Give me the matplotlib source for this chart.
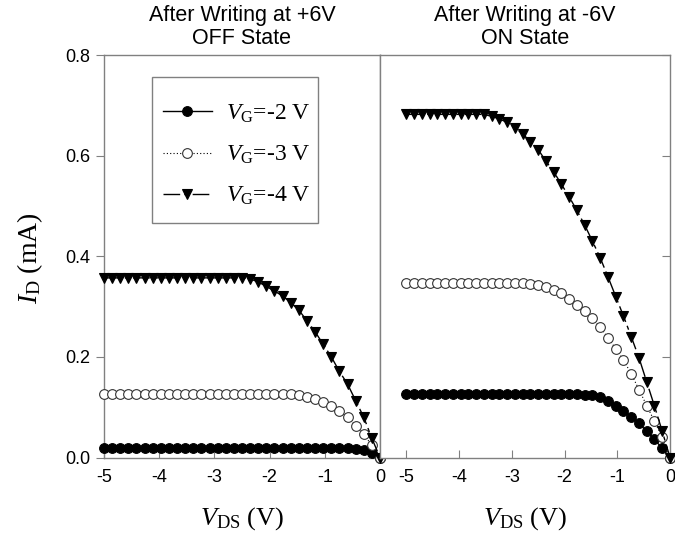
import matplotlib
matplotlib.use('Agg')
import matplotlib.pyplot as plt
from matplotlib.patches import Rectangle

plt.rcParams['mathtext.fontset'] = 'custom'
plt.rcParams['mathtext.rm'] = 'Liberation Serif'
plt.rcParams['mathtext.it'] = 'Liberation Serif:italic'

VDS = [-5.000, -4.853, -4.706, -4.559, -4.412, -4.265, -4.118, -3.971, -3.824, -3.676,
       -3.529, -3.382, -3.235, -3.088, -2.941, -2.794, -2.647, -2.500, -2.353, -2.206,
       -2.059, -1.912, -1.765, -1.618, -1.471, -1.324, -1.176, -1.029, -0.882, -0.735,
       -0.588, -0.441, -0.294, -0.147, 0.000]

OFF_VG2 = [0.018] * 31 + [0.017, 0.015, 0.009, 0.0]
OFF_VG3 = [0.127] * 23 + [0.126, 0.125, 0.121, 0.117, 0.110, 0.102, 0.092, 0.080,
                          0.063, 0.046, 0.024, 0.0]
OFF_VG4 = [0.357] * 18 + [0.355, 0.349, 0.340, 0.331, 0.321, 0.308, 0.293, 0.272, 0.250,
                          0.225, 0.200, 0.171, 0.146, 0.113, 0.080, 0.038, 0.0]

ON_VG2 = [0.126] * 23 + [0.125, 0.124, 0.120, 0.113, 0.103, 0.093, 0.081, 0.068,
                         0.052, 0.036, 0.018, 0.0]
ON_VG3 = [0.346] * 16 + [0.345, 0.343, 0.339, 0.333, 0.326, 0.316, 0.304, 0.291, 0.277,
                         0.259, 0.238, 0.216, 0.194, 0.166, 0.135, 0.103, 0.072, 0.040, 0.0]
ON_VG4 = [0.682] * 11 + [0.678, 0.673, 0.666, 0.655, 0.643, 0.628, 0.612, 0.589, 0.568,
                         0.543, 0.518, 0.491, 0.462, 0.430, 0.397, 0.359, 0.320, 0.281,
                         0.240, 0.198, 0.150, 0.102, 0.052, 0.0]

labels = [r'$\mathit{V}_{\mathrm{G}}$=-2 V', r'$\mathit{V}_{\mathrm{G}}$=-3 V', r'$\mathit{V}_{\mathrm{G}}$=-4 V']
titles = ['After Writing at +6V\nOFF State', 'After Writing at -6V\nON State']
xticks = [-5, -4, -3, -2, -1, 0]
yticks = [0.0, 0.2, 0.4, 0.6, 0.8]

W, H = 675, 541
fig = plt.figure(figsize=(W / 100, H / 100), dpi=100)
ax1 = fig.add_axes([104 / W, 1 - 457.5 / H, (380 - 104) / W, (457.5 - 55) / H])
ax2 = fig.add_axes([380 / W, 1 - 457.5 / H, (670 - 380) / W, (457.5 - 55) / H])

gray = '#808080'
styles = [
    dict(marker='o', ms=7, mfc='black', mec='black', color='black', ls='-', lw=1.0, mew=0.8),
    dict(marker='o', ms=7, mfc='white', mec='#333333', color='black', ls=(0, (1, 2)), lw=0.8, mew=0.8),
    dict(marker='v', ms=7.5, mfc='black', mec='black', color='black', ls=(0, (12, 3, 3, 3)), lw=1.0, mew=0.8),
]

for ax, series in [(ax1, [OFF_VG2, OFF_VG3, OFF_VG4]), (ax2, [ON_VG2, ON_VG3, ON_VG4])]:
    for ys, st, lab in zip(series, styles, labels):
        ax.plot(VDS, ys, label=lab, clip_on=False, zorder=3, **st)
    ax.set_ylim(0, 0.8)
    ax.set_xticks(xticks)
    ax.set_xticklabels([str(t) for t in xticks], fontsize=13, family='Liberation Sans')
    for s in ax.spines.values():
        s.set_color(gray)
        s.set_linewidth(1.0)
    ax.tick_params(axis='x', direction='in', length=6, color=gray, pad=8)

ax1.set_xlim(-5, 0)
ax2.set_xlim(-5.5, 0)

ax1.set_yticks(yticks)
ax1.set_yticklabels(['%.1f' % t for t in yticks], fontsize=13, family='Liberation Sans')
ax1.tick_params(axis='y', direction='out', length=6, color=gray, pad=4)

ax2.set_yticks(yticks)
ax2.tick_params(axis='y', direction='in', length=6, color=gray, left=False, right=True,
                labelleft=False, labelright=False)

for ax, t in zip([ax1, ax2], titles):
    ax.set_title(t, fontsize=15.5, family='Liberation Sans', pad=8, linespacing=1.12)
    ax.set_xlabel(r'$\mathit{V}_{\mathrm{DS}}$ (V)', fontsize=19, family='Liberation Serif', labelpad=14)

fig.text(30 / W, 1 - 258 / H, r'$\mathit{I}_{\mathrm{D}}$ (mA)', rotation=90, fontsize=20,
         family='Liberation Serif', ha='center', va='center')

# legend box
bx0, by0, bx1, by1 = 152, 77, 318, 223
box = Rectangle((bx0 / W, 1 - by1 / H), (bx1 - bx0) / W, (by1 - by0) / H,
                transform=fig.transFigure, fill=True, facecolor='white',
                edgecolor=gray, lw=1.0, zorder=4, clip_on=False)
ax1.add_patch(box)
shift = 5
leg = ax1.legend(loc='center left',
                 bbox_to_anchor=(bx0 / W, 1 - (by1 + shift) / H, (bx1 - bx0) / W, (by1 - by0) / H),
                 bbox_transform=fig.transFigure, borderaxespad=0, frameon=False,
                 prop={'family': 'Liberation Serif', 'size': 17}, handlelength=2.1,
                 labelspacing=0.8, borderpad=0.45, handletextpad=0.6)
leg.set_zorder(5)

fig.savefig('out.png', dpi=100)
